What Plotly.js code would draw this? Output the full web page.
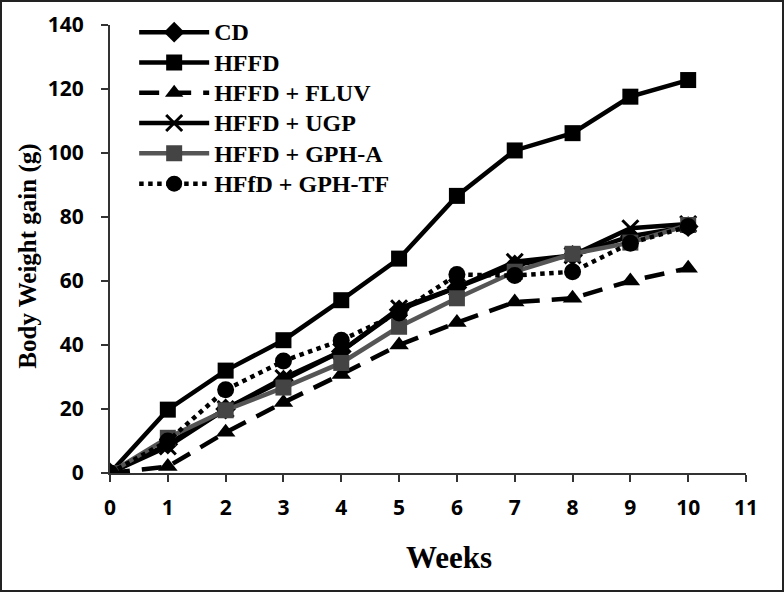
<!DOCTYPE html>
<html><head><meta charset="utf-8">
<script src="https://cdn.plot.ly/plotly-3.0.1.min.js"></script>
<style>
html,body{margin:0;padding:0;background:#fff;}
#wrap{width:784px;height:592px;box-sizing:border-box;border:2px solid #222;position:relative;}
#chart{width:780px;height:588px;}
</style></head>
<body><div id="wrap"><div id="chart"></div></div>
<script>
const weeks = [0,1,2,3,4,5,6,7,8,9,10];
const seriesNames = ["CD","HFFD","HFFD + FLUV","HFFD + UGP","HFFD + GPH-A","HFfD + GPH-TF"];
const cd     = [0, 9, 20, 29, 38, 51, 58, 65, 68, 74, 77];
const hffd   = [0, 19.8, 32, 41.5, 54, 67, 86.6, 100.8, 106.2, 117.6, 122.8];
const fluv   = [0, 2, 12.7, 22, 30.8, 40, 47, 53.4, 54.6, 60, 64];
const ugp    = [0, 8.3, 20, 29.7, 38, 51.5, 58, 66, 68, 76.5, 77.8];
const gpha   = [0, 11, 19.6, 26.7, 34.4, 45.7, 54.6, 62.9, 68.5, 72, 77.5];
const gphtf  = [0, 10, 26, 35, 41.5, 50, 62, 61.7, 62.9, 71.8, 77];
const xTicks = [0,1,2,3,4,5,6,7,8,9,10,11];
const yTicks = [0,20,40,60,80,100,120,140];
const xTitle = 'Weeks';
const yTitle = 'Body Weight gain (g)';

const vals = [cd, hffd, fluv, ugp, gpha, gphtf];
const styles = [
  {line:{color:'#000',width:4.5,dash:'solid'}, marker:{symbol:'diamond',size:16,color:'#000'}},
  {line:{color:'#000',width:4.5,dash:'solid'}, marker:{symbol:'square',size:16,color:'#000'}},
  {line:{color:'#000',width:4.5,dash:'20px,12px'}, marker:{symbol:'triangle-up',size:17,color:'#000'}},
  {line:{color:'#000',width:4.5,dash:'solid'}, marker:{symbol:'x-thin-open',size:16,color:'#000',line:{width:3,color:'#000'}}},
  {line:{color:'#555',width:4.5,dash:'solid'}, marker:{symbol:'square',size:16,color:'#444'}},
  {line:{color:'#000',width:4.5,dash:'dot'}, marker:{symbol:'circle',size:17,color:'#000'}}
];
const data = vals.map((v,i)=>({
  x: weeks, y: v, name: '<span style="font-size:24px">' + seriesNames[i] + '</span>',
  type:'scatter', mode:'lines+markers',
  line: styles[i].line, marker: styles[i].marker
}));

const serif = '"Liberation Serif", "Times New Roman", serif';
const sans = '"Open Sans", "Noto Sans", sans-serif';
const layout = {
  width:780, height:588,
  margin:{l:108, r:36, t:23, b:117, autoexpand:false},
  paper_bgcolor:'#fff', plot_bgcolor:'#fff',
  showlegend:true,
  legend:{x:0.038, y:1.029, xanchor:'left', yanchor:'top', bgcolor:'rgba(0,0,0,0)',
    font:{family:serif, size:21, color:'#000', weight:'bold'}, itemwidth:70,
    tracegroupgap:0},
  xaxis:{range:[0,11], tickvals:xTicks, ticktext:xTicks.map(String), showgrid:false, zeroline:false,
    showline:true, linecolor:'#333', linewidth:2, ticks:'outside', ticklen:7, tickwidth:2, tickcolor:'#333',
    ticklabelstandoff:8,
    tickfont:{family:sans, size:21, color:'#000', weight:'bold'}},
  yaxis:{range:[0,140], tickvals:yTicks, ticktext:yTicks.map(String), showgrid:false, zeroline:false,
    showline:true, linecolor:'#333', linewidth:2, ticks:'outside', ticklen:7, tickwidth:2, tickcolor:'#333',
    ticklabelstandoff:13,
    tickfont:{family:sans, size:21, color:'#000', weight:'bold'}},
  annotations:[
    {text:xTitle, xref:'paper', yref:'paper', x:0.533, y:-0.1875, xanchor:'center', yanchor:'middle',
     showarrow:false, font:{family:serif, size:31, color:'#000', weight:'bold'}},
    {text:yTitle, xref:'paper', yref:'paper', x:-0.129, y:0.485, xanchor:'center', yanchor:'middle',
     textangle:-90, showarrow:false, font:{family:serif, size:25, color:'#000', weight:'bold'}}
  ]
};
Plotly.newPlot('chart', data, layout, {displayModeBar:false, responsive:false});
</script></body></html>
